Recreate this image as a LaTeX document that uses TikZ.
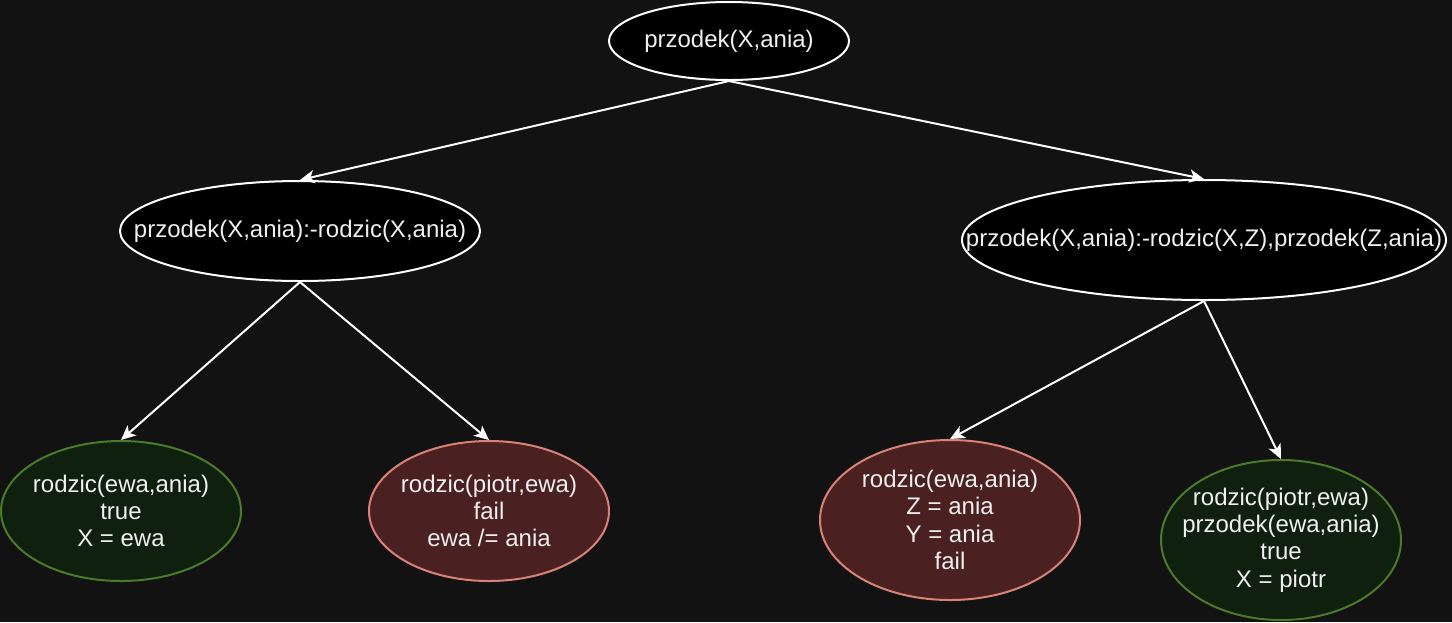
\documentclass[tikz,border=0pt]{standalone}
\usepackage{fontspec}
\setmainfont{Liberation Sans}
\usepackage{xcolor}
\usetikzlibrary{shapes.geometric, arrows.meta}

\definecolor{bgdark}{HTML}{121212}
\definecolor{txtlight}{HTML}{F0F0F0}
\definecolor{okfill}{HTML}{0F200E}
\definecolor{okline}{HTML}{4A7A2A}
\definecolor{badfill}{HTML}{4A2020}
\definecolor{badline}{HTML}{D9827A}

\tikzset{
  goal/.style={ellipse, draw=white, fill=black, line width=1.5pt, inner sep=0pt},
  okgoal/.style={ellipse, draw=okline, fill=okfill, line width=1.5pt, inner sep=0pt},
  badgoal/.style={ellipse, draw=badline, fill=badfill, line width=1.5pt, inner sep=0pt},
  txt/.style={text=txtlight, align=center, inner sep=0pt,
    font=\fontsize{18}{20.5}\selectfont},
  link/.style={draw=white, line width=1.5pt,
    -{Stealth[length=11pt, width=10pt, inset=3pt]}}
}

\begin{document}
\begin{tikzpicture}[x=0.75pt,y=0.75pt,yscale=-1,xscale=1]
% background
\fill[bgdark] (0,0) rectangle (1452,622);
\useasboundingbox (0,0) rectangle (1452,622);

% Goal ellipses
\node[goal, minimum width=180pt, minimum height=58.5pt] (root) at (729,41) {};
\node[goal, minimum width=270pt, minimum height=75pt] (ruleA) at (300,231) {};
\node[goal, minimum width=363pt, minimum height=90pt] (ruleB) at (1204,240) {};
% Leaves
\node[okgoal, minimum width=180pt, minimum height=105pt] (leafA) at (121,511) {};
\node[badgoal, minimum width=180pt, minimum height=105pt] (leafB) at (489,511) {};
\node[badgoal, minimum width=195pt, minimum height=120pt] (leafC) at (950,520) {};
\node[okgoal, minimum width=180pt, minimum height=120pt] (leafD) at (1281,540) {};

% Text Nodes
\node[txt] (root-t) at (root) {przodek(X,ania)};
\node[txt] (ruleA-t) at (ruleA) {przodek(X,ania):-rodzic(X,ania)};
\node[txt] (ruleB-t) at (ruleB) {przodek(X,ania):-rodzic(X,Z),przodek(Z,ania)};
\node[txt] (leafA-t) at (leafA) {rodzic(ewa,ania)\\true\\X = ewa};
\node[txt] (leafB-t) at (leafB) {rodzic(piotr,ewa)\\fail\\ewa /= ania};
\node[txt] (leafC-t) at (leafC) {rodzic(ewa,ania)\\Z = ania\\Y = ania\\fail};
\node[txt] (leafD-t) at (leafD) {rodzic(piotr,ewa)\\przodek(ewa,ania)\\true\\X = piotr};

% Edges
\draw[link] (root.south) -- (ruleA.north);
\draw[link] (root.south) -- (ruleB.north);
\draw[link] (ruleA.south) -- (leafA.north);
\draw[link] (ruleA.south) -- (leafB.north);
\draw[link] (ruleB.south) -- (leafC.north);
\draw[link] (ruleB.south) -- (leafD.north);

\end{tikzpicture}
\end{document}
